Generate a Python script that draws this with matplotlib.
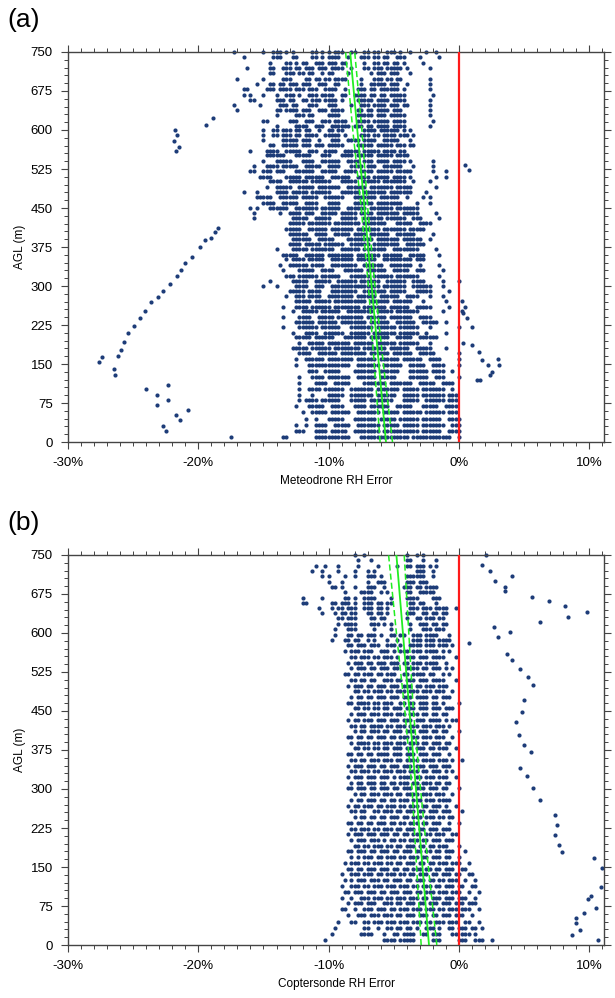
import matplotlib
matplotlib.use("Agg")
import matplotlib.pyplot as plt
from matplotlib.ticker import MultipleLocator

plt.rcParams['font.family'] = ['Liberation Sans', 'DejaVu Sans']

# ---- panel (a): Meteodrone ----
# occupancy rows: altitude (m) -> runs of 0.25 % bins, bin 0 = -18 %
a_x0 = -18.0
a_rows = [
    (750, "3 12 15-17 19 21 27-28 30 32 34-36 39-40 43-44 46-47 50-52 54 57 62 65"),
    (740, "6 15-17 21-22 27-28 30 32-35 38 42-44 46-47 49-50 53-55 60 66"),
    (729, "14 19-20 22 24-25 28-30 32-34 36-37 43 46-47 49-50 52-53 55 61"),
    (719, "7 14-15 18-20 22-23 25-27 29-31 33-36 39 43-44 46-48 50-54 56 63"),
    (709, "14-15 19-21 23-24 26-27 30 32-33 38 45 47-49 51-53 57"),
    (699, "4 12 18-20 25-26 28-29 31-32 34-37 42 46-48 50-51 53-54 63"),
    (689, "10 14-15 17-18 20-22 24-26 29-31 34-35 42 45-49 51-53 56 63"),
    (678, "6-7 13-15 17-20 22-24 26-28 31-34 37 41-43 45-46 48-53 55 63"),
    (668, "6 8 12 16 19-21 23 26-28 30-33 36-37 40-43 45-46 48-49 51-55 64"),
    (658, "8-9 16-18 20-21 24-25 27-29 31-34 36 41-45 47-50 52-55 63"),
    (648, "3 11 17-19 21-22 26-28 32-34 39 42-44 46-49 51-53 55-56 63"),
    (638, "4 16-17 19-22 24-26 29-31 33-36 41-42 44-45 47-50 52-54 63"),
    (628, "16 22-24 26-27 32-35 41-45 47-49 51-55 63"),
    (618, "12-13 20-22 25-27 30-32 34-37 41-44 46-50 52-55 64"),
    (608, "16 22-25 28-30 33-38 40-42 44-45 47-50 52-55 63"),
    (600, "12 15-16 18-20 22-23 25-26 29 32-33 35-36 43-46 48-53 55 57"),
    (590, "12 15-16 18-20 22-23 25-28 31-35 37 42-44 46-47 49-52 54-56 58"),
    (581, "12 18-22 24-26 29 33-35 38-41 43-46 49-53 57"),
    (571, "14-15 18-22 24-26 28-30 32-36 41-45 47-51 53-55 57-58"),
    (560, "8 13-16 19-23 26-28 31-34 37-41 43-47 49-52 54-55"),
    (551, "13-18 22-26 30-32 36-39 41-45 47-51 53-56"),
    (541, "12 16-20 24-27 30-35 38-41 43-45 47-50 52-55 57 64"),
    (531, "9 13-16 18-22 25-29 32-35 39-42 44-46 49-54 58 64"),
    (522, "8-9 12-14 16-18 22-27 30-34 37-40 42-45 47-51 53-57 64 68"),
    (510, "11-14 19-23 25-30 33-38 41-44 46-50 52-55 57 65 68"),
    (501, "14-17 20-25 27-32 36-40 43-47 49-55 58 63"),
    (491, "13 16-20 23-27 29-35 38-43 45-51 53-57 65"),
    (481, "6 10 16-19 21-25 27-32 36-41 43-49 51-57 62"),
    (471, "10-14 17-22 24-28 31-36 40-46 48-53 56 61 63"),
    (460, "12-15 18-22 25-28 32-35 40-45 47-54 59 63"),
    (450, "8 10 14-19 22-28 30-35 38-43 45-51 53-59"),
    (440, "9 17 20-23 25-27 30-34 36-40 42-45 47-53 55-59 65"),
    (431, "9 21-25 28-32 36-40 43-48 50-55 58-60 66"),
    (421, "20-24 26-32 34-41 43-49 53-57 60-63"),
    (410, "19-23 26-31 33-39 41-47 49-55 57-61"),
    (400, "20-25 28-31 34-38 40-43 45-50 53-58 64"),
    (391, "21-26 29-33 38-45 47-53 55-60 63"),
    (381, "20-23 25-29 31-36 39-44 46-53 56-61"),
    (372, "16 21-25 27-33 36-41 43-49 52-59 65"),
    (360, "18-22 25-30 32-39 41-47 49-54 57-61 66"),
    (351, "19 21-24 26-30 33-39 41-46 49-57 59-61"),
    (341, "17 20-25 27-30 33-40 43-48 51-57 60 66"),
    (331, "18 23-27 30-33 37-42 44-49 52-56 59-61 67"),
    (320, "19-21 23-28 30-35 39-44 46-51 53-59 66"),
    (310, "14 21-25 28-32 35-40 42-47 50-55 58-61 67 72"),
    (300, "12 16 22-25 28-30 33-40 41-47 49-55 58-63 67"),
    (290, "20-24 26-29 33-40 43-49 51-55 59-63 69"),
    (281, "19 22-24 26-29 32-39 41-46 48-53 56-59 63 67"),
    (271, "22-26 28-32 34-43 45-50 52-57 61 68 73"),
    (260, "18 22-25 27-32 34-41 43-49 51-56 59-63 69 74"),
    (251, "21 24-28 30-35 38-45 47-51 53-59 67 73"),
    (241, "18 23-26 29-33 35-42 44-49 51-57 60-63"),
    (231, "22-27 29-34 36-43 45-50 53-58 61-65 68"),
    (222, "18 23-28 30-35 39-45 47-52 54-59 63 72 76"),
    (210, "21 25-28 31-36 39-44 46-52 54-59 62 68"),
    (201, "22-26 28-33 37-43 45-50 53-57 60-65"),
    (191, "23 26-30 32-38 40-45 47-52 54-59 63"),
    (181, "21-25 27-32 34-41 43-49 51-56 59-63 68"),
    (171, "23-26 29-34 36-43 45-50 52-57 60-64 72"),
    (160, "22 25-30 32-39 41-46 48-53 55-60 63-66 72"),
    (149, "22 26-30 31-38 41-47 49-54 57-61 64-67 72"),
    (136, "26-28 31-35 40-46 48-53 57-62 64-67 70"),
    (125, "23 27-30 32-38 41-46 48-52 57-62 65-67 72"),
    (113, "23 28-31 34-38 43-49 51-57 60-64 67-70"),
    (102, "23 26-29 31-36 39-45 47-53 55-59 61-67 70"),
    (91, "23 27 32-36 39-45 47-52 55-59 61-67 69-71"),
    (80, "23 25-28 30-35 39-43 45-51 55-59 62-67 69-71"),
    (69, "22 26-30 33-36 40-43 45-50 53-57 61-65 68-71"),
    (57, "24 27-31 33-38 41-47 49-53 55-60 62-67 69-71"),
    (45, "25 28 32-36 40-46 48-52 54-59 61-66 69-72"),
    (33, "22 25 28-31 34-38 41-47 49-53 55-59 61-67 70-72"),
    (22, "22-24 28-31 33-37 40-47 49-53 54-59 61-66 69-72"),
    (10, "2 18-19 28-31 32-38 42-50 51-56 58-63 64-69 72"),
]
# isolated points far from the main cloud (x %, altitude m)
a_extra_x = [-18.9, -19.4, -21.8, -21.6, -21.9, -21.5, -21.7,
             -18.5, -18.7, -19.0, -19.5, -19.9, -20.5, -21.0, -21.3, -21.6, -22.2,
             -22.7, -23.1, -23.6, -24.1, -24.5, -24.9, -25.4, -25.7, -25.9, -26.2,
             -27.4, -27.6, -26.5, -26.4,
             -24.0, -23.2, -22.3, -23.2, -22.3, -20.8, -21.7, -21.4, -22.7, -22.5,
             0.5, 0.8, 0.3, 0.6, 0.3, 1.4, 1.6,
             1.0, 1.5, 1.8, 2.2, 2.5, 3.0, 3.1, 2.4]
a_extra_y = [623, 610, 600, 590, 579, 567, 560,
             411, 404, 392, 388, 375, 356, 344, 331, 319, 304,
             290, 279, 269, 252, 238, 223, 210, 192, 177, 165,
             163, 154, 140, 128,
             102, 91, 110, 72, 81, 62, 51, 42, 31, 21,
             533, 523, 248, 238, 190, 119, 120,
             187, 173, 158, 148, 135, 160, 148, 129]
a_fit_y = [0, 150, 300, 450, 600, 750]
a_fit = [-5.6, -6.15, -6.7, -7.25, -7.8, -8.35]
a_lo = [-6.05, -6.5, -6.95, -7.5, -8.15, -8.7]
a_hi = [-5.1, -5.8, -6.45, -7.0, -7.45, -8.0]

# ---- panel (b): Coptersonde ----
# bin 0 = -12 %
b_x0 = -12.0
b_rows = [
    (750, "16 19 32 35 37"),
    (740, "17 21 32-33 37 41"),
    (729, "4 7 11 17 23 29 32-33 35-37 39 41"),
    (719, "3 6 11 16 20 22 35-37 40"),
    (709, "6 8 13 16 20-22 24 32-37 40"),
    (699, "8 12 20 23-25 32-34 36-38"),
    (689, "9-10 12 16 20-22 25 31-33 35-36 38-41"),
    (678, "13 18-21 24 26 32-33 36-40"),
    (668, "0 6 13-14 16 19-22 27 32-35 40-42"),
    (658, "0 1 9-10 12-14 16 19-21 23-24 26-27 33-34 36-37 41"),
    (648, "5 9 11-12 14-16 19-21 23-24 26 33-35 37-39 41-44 47"),
    (638, "6 10 12-13 15-16 20-21 23-24 26 32-34 37-38 40-41 43-44"),
    (628, "11-12 14-16 21-22 24-25 32 35-36 38-40 42-43"),
    (618, "11 13-16 21-23 25 27 33 36-38 40-41 43-44"),
    (608, "10 14-16 22 27 33 37-39 41-43"),
    (597, "10 14-15 17-18 20-22 24 27-28 30-31 34-36 38-41 45"),
    (587, "9 13-14 16-17 20 22 26 29 34-36 38-40 42-45"),
    (576, "14-15 17-19 21-23 26-28 30 33-36 38-40 42-44 46"),
    (565, "13 15-17 19-21 24-26 28 30-32 34-36 38-41 43 45"),
    (554, "15-16 18-20 22-23 25-27 29 32-34 36-38 40-43 47"),
    (543, "14 16-18 20-21 23-25 27-29 31-32 34-36 38-41 44"),
    (532, "15 17-19 21-22 24-26 28-29 32-35 37-38 40-42 44 46"),
    (521, "13-14 16-17 19-21 23-24 26-28 31-32 34-37 39-40 43 45"),
    (510, "15-16 18-19 21-22 25-27 29-30 32-34 36-38 40-43 47"),
    (499, "14 16-18 20-21 23-25 27-29 31-33 35-36 38-40 42-44"),
    (488, "16-17 19-20 22-24 26-27 29-31 33-35 37-39 41-43 46"),
    (477, "15 17-18 20-21 23-25 27-29 31-33 35-38 40-41 43-45"),
    (466, "14-15 17-20 22-23 25-27 30-31 33-34 36-38 40-41 43 48"),
    (455, "16-17 19-20 22-23 25-26 28-30 32-34 36-38 40-42 44-46"),
    (444, "15 17-19 21-23 25-27 29-31 33-35 37-38 40-41 43-44"),
    (433, "14 16-17 19-21 23-25 27-29 31-33 35-37 39-42 44 46-47"),
    (422, "15-16 18-19 21-24 26-27 29-31 33-35 37-39 41-43 45"),
    (411, "16 18-19 21-23 25-26 28-30 32-34 36-38 40-41 43-44 48"),
    (400, "14-15 17-18 20-21 23-25 27-28 30-32 34-35 37-39 41-43 46"),
    (389, "15 17-20 22-23 25-27 29-31 33-35 37-38 40-42 44-45"),
    (378, "16-17 19-20 22-23 25-26 28-30 32-33 35-37 39-40 42-44 47"),
    (367, "14-15 17-18 20-21 23-26 28-30 32-34 36-38 40-42 45"),
    (356, "15-16 18-19 21-23 25-27 29-30 32-35 37-40 42-44 46 49"),
    (345, "14 16-18 20-22 24-25 27-29 31-33 35-37 39-41 43-45"),
    (334, "15-16 18-20 22-23 25-27 29-31 33-35 37-38 40-42 44 46"),
    (323, "14 16-18 20-22 24-26 28 30-33 35-36 38-40 42-44 47"),
    (312, "15 17-18 20-22 24-25 27-28 30-32 34-35 37-39 41-42 44-45"),
    (301, "14-15 17-19 21-22 24-26 28-29 31-33 35-37 39-41 43-44 48"),
    (290, "16 18-19 21-23 25-27 29-30 32-35 37-39 41-43 46"),
    (279, "15 17-18 20-22 24-25 27-28 30-32 34-36 38-40 42-45"),
    (268, "14 16-17 19-21 23-24 26-28 30-31 33-35 37-38 40-42 44 47"),
    (257, "15-16 18-19 22-23 25-27 29-30 32-34 36-37 39-41 43-45 49"),
    (246, "16 18-19 21-22 24-25 27-29 31-32 34-36 38-40 42-43 45-46"),
    (235, "14-15 17-18 20-21 23-25 27-28 30-31 33-35 37-38 40-42 45 48"),
    (224, "15-16 18-20 22-23 25-27 29-30 32-34 36-37 39-41 43-45"),
    (213, "14 16-18 20-22 24-26 28-29 31-32 34-36 38-39 41-43 46-47"),
    (202, "15 17-19 21-23 25 27-28 30-31 33-35 37-38 40-42 44-46"),
    (191, "16-17 19-20 22-24 26-27 29-30 32-34 36-37 39-40 42-44 48"),
    (180, "14-15 17-19 21-22 24-26 28-29 31-33 35-36 38-39 41-42 44-46 50"),
    (169, "15 17 19-21 23-24 26-28 30-31 33-35 37-38 40-42 44-45 48"),
    (158, "13 15-17 19-20 22-24 26-27 29-30 32-34 36-37 39-40 42-44 46-48 51"),
    (147, "14-15 17-18 20-22 24-26 28-29 31-32 34-36 38-39 41-42 44-46 49-50"),
    (136, "12 15-17 19-21 23-24 26-28 30-31 33-34 36-38 40-41 43-45 47-48 51-52"),
    (125, "13 15 17-19 21-23 25-26 28-30 32-33 35-37 39-40 42-43 45-47 50 53"),
    (113, "12 15-17 19-20 22-24 26-28 30-32 34-35 37-39 41-42 44-46 48-49 52-53"),
    (102, "13-14 16-18 20-22 24-25 27-29 31-33 35-36 38-40 42-44 46-48 51 54"),
    (91, "12 15 18-20 22-24 26-27 29-31 33-35 37-38 40-42 44-46 48-50 53"),
    (80, "14 16-18 20-22 25-27 29-30 32-34 36-37 39-41 43-45 47-49 51-53"),
    (69, "12-13 16 19-21 23-25 27-28 30-32 34-36 38-40 42-43 45-47 49-51 54"),
    (57, "14 17-19 21-23 25-27 29-30 32-34 36-38 40-41 43-45 47-49 52"),
    (45, "11 15-16 19-20 22-24 26-28 30-32 34-36 38-39 41-43 45-47 50-51 54"),
    (33, "10 19-20 23 26-27 29-30 32-33 35 38-40 42 45-46 48-50 52-53 55"),
    (22, "9 18-20 21 25 28-29 31-34 37-38 40-42 46-47 49-51 53"),
    (10, "7 25-28 30-34 40-42 48-50 53-55 58"),
]
b_extra_x = [2.1, 1.75, 2.4, 2.8, 4.1, 3.5, 3.5, 5.6, 6.9, 8.1, 8.4, 9.8,
             6.2, 2.7, 3.9, 3.0, 0.75,
             3.7, 4.1, 4.7, 5.3, 5.7, 5.0, 4.8, 4.4, 4.6, 5.0, 5.5,
             4.7, 5.2, 5.7, 6.2, 7.4, 7.5, 7.4, 7.7, 7.9,
             10.4, 11.0, 10.9, 10.1, 9.9, 10.5, 9.6, 9.0, 9.0, 9.3, 8.7, 10.7]
b_extra_y = [750, 731, 720, 700, 710, 689, 680, 670, 661, 651, 631, 640,
             621, 612, 601, 592, 581,
             560, 548, 530, 515, 500, 471, 448, 429, 404, 385, 371,
             340, 325, 302, 279, 250, 231, 212, 192, 179,
             167, 148, 111, 95, 88, 72, 62, 52, 42, 29, 20, 10]
b_fit_y = [0, 150, 300, 450, 600, 750]
b_fit = [-2.3, -2.8, -3.3, -3.8, -4.3, -4.8]
b_lo = [-2.9, -3.25, -3.6, -4.15, -4.8, -5.4]
b_hi = [-1.7, -2.35, -2.95, -3.5, -3.85, -4.2]


def expand(rows, x0):
    xs, ys = [], []
    for alt, runs in rows:
        for tok in runs.split():
            if '-' in tok:
                a, b = tok.split('-')
                idx = range(int(a), int(b) + 1)
            else:
                idx = [int(tok)]
            for i in idx:
                xs.append(x0 + 0.25 * i)
                ys.append(alt)
    return xs, ys


dot_col = '#1d3c78'
fig = plt.figure(figsize=(6.15, 9.98), dpi=100)

panels = [
    ([0.1106, 0.5571, 0.8715, 0.3908], a_rows, a_x0, a_extra_x, a_extra_y,
     a_fit_y, a_fit, a_lo, a_hi, 'Meteodrone RH Error', '(a)'),
    ([0.1106, 0.0531, 0.8715, 0.3908], b_rows, b_x0, b_extra_x, b_extra_y,
     b_fit_y, b_fit, b_lo, b_hi, 'Coptersonde RH Error', '(b)'),
]

for rect, rows, x0, ex, ey, fy, fc, flo, fhi, xlab, tag in panels:
    ax = fig.add_axes(rect)
    xs, ys = expand(rows, x0)
    ax.scatter(xs + ex, ys + ey, s=9, c=dot_col, linewidths=0, zorder=2, clip_on=False)
    ax.axvline(0, color='#ff1a1a', lw=1.6, zorder=3)
    ax.plot(fc, fy, color='#22ee22', lw=1.3, zorder=4)
    ax.plot(flo, fy, color='#22ee22', lw=1.1, ls=(0, (4, 2)), zorder=4)
    ax.plot(fhi, fy, color='#22ee22', lw=1.1, ls=(0, (4, 2)), zorder=4)
    ax.set_xlim(-30, 11.13)
    ax.set_ylim(0, 750)
    ax.xaxis.set_major_locator(MultipleLocator(10))
    ax.xaxis.set_minor_locator(MultipleLocator(1))
    ax.yaxis.set_major_locator(MultipleLocator(75))
    ax.yaxis.set_minor_locator(MultipleLocator(15))
    ax.set_xticks([-30, -20, -10, 0, 10])
    ax.set_xticklabels(['-30%', '-20%', '-10%', '0%', '10%'])
    ax.tick_params(which='both', direction='out', top=True, right=True,
                   labelsize=9.5, color='#444444', pad=6)
    ax.tick_params(which='major', length=5, width=0.8)
    ax.tick_params(which='minor', length=3, width=0.7)
    for sp in ax.spines.values():
        sp.set_color('#444444')
        sp.set_linewidth(1.0)
    ax.set_xlabel(xlab, fontsize=8.5, labelpad=4)
    ax.set_ylabel('AGL (m)', fontsize=8.5, labelpad=3)
    fig.text(0.012, rect[1] + rect[3] + 0.02, tag, fontsize=19, ha='left', va='bottom')

fig.savefig('out.png', dpi=100)
